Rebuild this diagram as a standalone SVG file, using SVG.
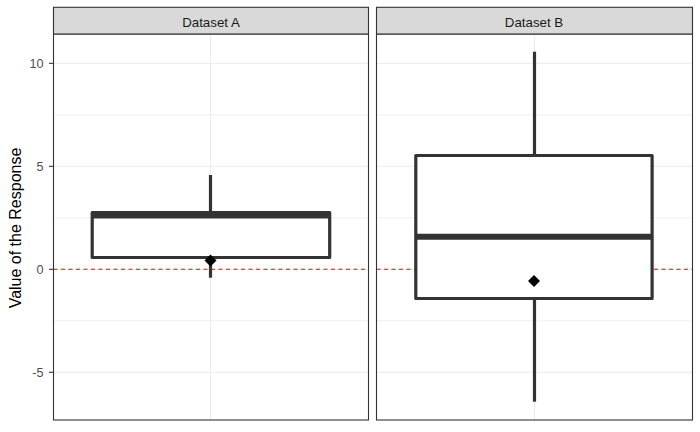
<svg xmlns="http://www.w3.org/2000/svg" width="700" height="432" viewBox="0 0 700 432">
<style>
.bg{fill:#FFFFFF}
.grid{stroke:#EBEBEB;stroke-width:1;fill:none}
.gridm{stroke:#EBEBEB;stroke-width:0.8;fill:none}
.border{fill:none;stroke:#333333;stroke-width:1.1}
.strip{fill:#D9D9D9;stroke:#333333;stroke-width:1.1}
.striptxt{font-family:"Liberation Sans",Arial,sans-serif;font-size:13.3px;fill:#1A1A1A;text-anchor:middle}
.tick{stroke:#333333;stroke-width:1.1}
.ticktxt{font-family:"Liberation Sans",Arial,sans-serif;font-size:12.6px;fill:#4D4D4D;text-anchor:end}
.title{font-family:"Liberation Sans",Arial,sans-serif;font-size:16px;fill:#000000;text-anchor:middle}
.zero{stroke:#FF0000;stroke-width:1.1;stroke-dasharray:4,3.5;fill:none}
.box{fill:#FFFFFF;stroke:#333333;stroke-width:3.2;stroke-linejoin:round}
.whisk{stroke:#333333;stroke-width:3.2;fill:none}
.median{stroke:#333333;stroke-width:6;fill:none}
.mean{fill:#000000}
</style>
<rect class="bg" x="0" y="0" width="700" height="432"/>

<g id="panel-a">
  <rect class="bg" x="53.5" y="34" width="315" height="386"/>
  <line class="gridm" x1="53.5" x2="368.5" y1="320.8" y2="320.8"/>
  <line class="gridm" x1="53.5" x2="368.5" y1="217.8" y2="217.8"/>
  <line class="gridm" x1="53.5" x2="368.5" y1="114.8" y2="114.8"/>
  <line class="grid" x1="53.5" x2="368.5" y1="372.3" y2="372.3"/>
  <line class="grid" x1="53.5" x2="368.5" y1="269.3" y2="269.3"/>
  <line class="grid" x1="53.5" x2="368.5" y1="166.3" y2="166.3"/>
  <line class="grid" x1="53.5" x2="368.5" y1="63.3" y2="63.3"/>
  <line class="grid" x1="210.5" x2="210.5" y1="34" y2="420"/>
  <line class="zero" x1="53.5" x2="368.5" y1="269.3" y2="269.3"/>
  <line class="whisk" x1="210.5" x2="210.5" y1="175" y2="212.5"/>
  <line class="whisk" x1="210.5" x2="210.5" y1="257.5" y2="277.7"/>
  <rect class="box" x="92.2" y="212.5" width="237.5" height="45"/>
  <line class="median" x1="92.2" x2="329.7" y1="215.5" y2="215.5"/>
  <polygon class="mean" points="210.5,254.5 216.5,260.5 210.5,266.5 204.5,260.5"/>
  <rect class="border" x="53.5" y="34" width="315" height="386"/>
  <rect class="strip" x="53.5" y="7.3" width="315" height="26.7"/>
  <text class="striptxt" x="211" y="27">Dataset A</text>
</g>

<g id="panel-b">
  <rect class="bg" x="376.5" y="34" width="316" height="386"/>
  <line class="gridm" x1="376.5" x2="692.5" y1="320.8" y2="320.8"/>
  <line class="gridm" x1="376.5" x2="692.5" y1="217.8" y2="217.8"/>
  <line class="gridm" x1="376.5" x2="692.5" y1="114.8" y2="114.8"/>
  <line class="grid" x1="376.5" x2="692.5" y1="372.3" y2="372.3"/>
  <line class="grid" x1="376.5" x2="692.5" y1="269.3" y2="269.3"/>
  <line class="grid" x1="376.5" x2="692.5" y1="166.3" y2="166.3"/>
  <line class="grid" x1="376.5" x2="692.5" y1="63.3" y2="63.3"/>
  <line class="grid" x1="534.5" x2="534.5" y1="34" y2="420"/>
  <line class="zero" x1="376.5" x2="692.5" y1="269.3" y2="269.3"/>
  <line class="whisk" x1="534.5" x2="534.5" y1="51.7" y2="155.5"/>
  <line class="whisk" x1="534.5" x2="534.5" y1="298.5" y2="401.7"/>
  <rect class="box" x="415.8" y="155.5" width="236.3" height="143"/>
  <line class="median" x1="415.8" x2="652.1" y1="236.8" y2="236.8"/>
  <polygon class="mean" points="534,275 540,281 534,287 528,281"/>
  <rect class="border" x="376.5" y="34" width="316" height="386"/>
  <rect class="strip" x="376.5" y="7.3" width="316" height="26.7"/>
  <text class="striptxt" x="534" y="27">Dataset B</text>
</g>

<g id="y-axis">
  <line class="tick" x1="49" x2="53.5" y1="63.3" y2="63.3"/>
  <line class="tick" x1="49" x2="53.5" y1="166.3" y2="166.3"/>
  <line class="tick" x1="49" x2="53.5" y1="269.3" y2="269.3"/>
  <line class="tick" x1="49" x2="53.5" y1="372.3" y2="372.3"/>
  <text class="ticktxt" x="43.5" y="68">10</text>
  <text class="ticktxt" x="43.5" y="171">5</text>
  <text class="ticktxt" x="43.5" y="274">0</text>
  <text class="ticktxt" x="43.5" y="377">-5</text>
  <text class="title" transform="translate(21,228) rotate(-90)">Value of the Response</text>
</g>
</svg>
